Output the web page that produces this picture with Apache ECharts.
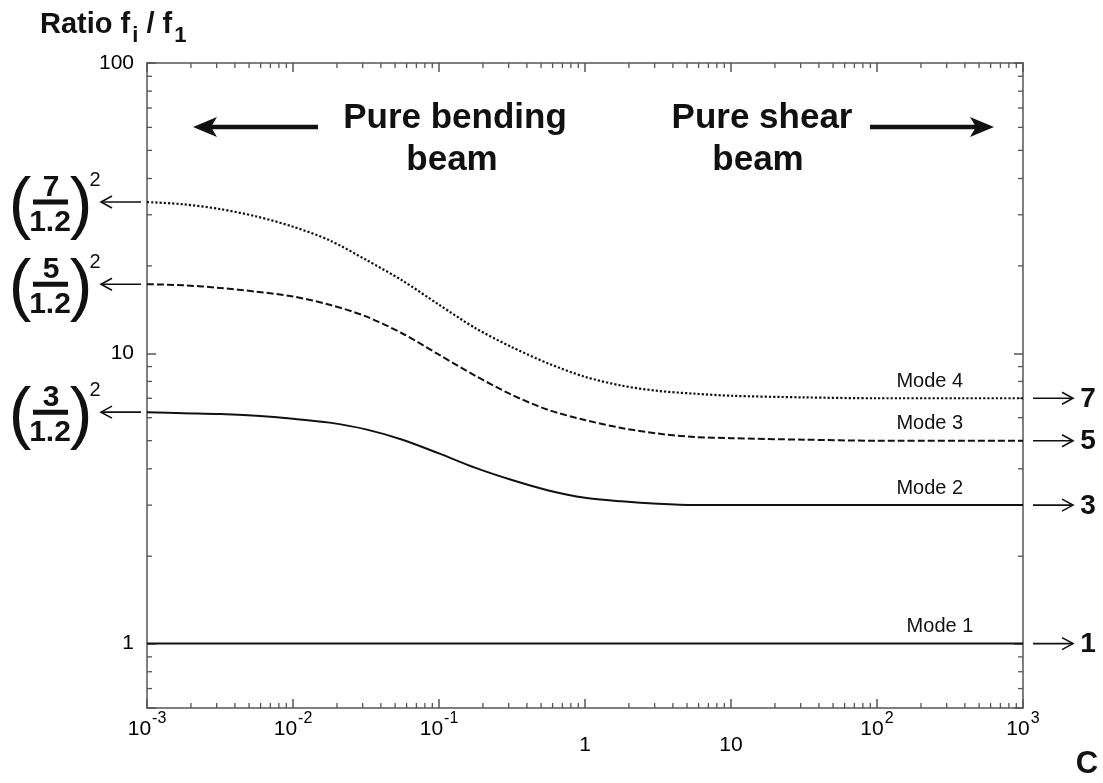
<!DOCTYPE html>
<html>
<head>
<meta charset="utf-8">
<script src="https://cdn.jsdelivr.net/npm/echarts@6/dist/echarts.min.js"></script>
<style>html,body{margin:0;padding:0;background:#fff;}#chart{width:1103px;height:783px;}</style>
</head>
<body>
<div id="chart"></div>
<script>
// ---- data ----
const cValues = [0.001, 0.00178, 0.00316, 0.00562, 0.01, 0.0178, 0.0316, 0.0562, 0.1, 0.178, 0.316, 0.562, 1, 1.78, 3.16, 5.62, 10, 31.6, 100, 1000];
const mode1 = [1, 1, 1, 1, 1, 1, 1, 1, 1, 1, 1, 1, 1, 1, 1, 1, 1, 1, 1, 1];
const mode2 = [6.27, 6.22, 6.18, 6.09, 5.95, 5.77, 5.47, 5.04, 4.52, 4.03, 3.66, 3.37, 3.18, 3.09, 3.03, 3.00, 3.0, 3.0, 3.0, 3.0];
const mode3 = [17.3, 17.15, 16.8, 16.3, 15.7, 14.7, 13.4, 11.7, 9.89, 8.36, 7.19, 6.38, 5.89, 5.53, 5.29, 5.15, 5.10, 5.04, 5.0, 5.0];
const mode4 = [33.2, 32.6, 31.4, 29.6, 27.3, 24.5, 21.0, 17.8, 14.7, 12.2, 10.5, 9.22, 8.30, 7.74, 7.42, 7.26, 7.14, 7.05, 7.0, 7.0];
const modeNames = ['Mode 1', 'Mode 2', 'Mode 3', 'Mode 4'];
const shearLimits = ['1', '3', '5', '7'];
const bendingNumerators = ['3', '5', '7'];
const bendingDenominator = '1.2';
const yTickLabels = ['1', '10', '100'];
const xDecades = [0.001, 0.01, 0.1, 1, 10, 100];
const yDecades = [0.1, 1, 10];
const minorMult = [2, 3, 4, 5, 6, 7, 8, 9];
const xMin = 0.001, xMax = 1000, yMin = 0.6, yMax = 100;

const FONT = '"Liberation Sans", Arial, sans-serif';
const INK = '#111';
const AXIS = '#555';

const xMinor = [];
xDecades.forEach(d => minorMult.forEach(m => xMinor.push([+(d * m).toPrecision(3), 1])));
const yMinor = [];
yDecades.forEach(d => minorMult.forEach(m => { const v = +(d * m).toPrecision(3); if (v > yMin && v < yMax) yMinor.push([1, v]); }));

const pairs = arr => cValues.map((c, i) => [c, arr[i]]);

const chart = echarts.init(document.getElementById('chart'), null, {renderer: 'canvas'});

function xLabel(v) {
  const e = Math.round(Math.log10(v));
  if (e === 0) return '{low|1}';
  if (e === 1) return '{low|10}';
  return '{b|10}{s|' + e + '}';
}

const axisCommon = {
  axisLine: {show: true, lineStyle: {color: AXIS, width: 1.5}},
  axisTick: {show: true, inside: true, length: 9, lineStyle: {color: AXIS, width: 1.5}},
  splitLine: {show: false},
  minorTick: {show: false},
  minorSplitLine: {show: false}
};

function minorTickSeries(isX) {
  return {
    type: 'custom',
    silent: true,
    xAxisIndex: 0, yAxisIndex: 0,
    clip: false,
    data: isX ? xMinor : yMinor,
    renderItem: function (params, api) {
      const cs = params.coordSys;
      const len = 5;
      if (isX) {
        const x = api.coord([api.value(0), 1])[0];
        const b = cs.y + cs.height, t = cs.y;
        return {type: 'group', children: [
          {type: 'line', shape: {x1: x, y1: b, x2: x, y2: b - len}, style: {stroke: AXIS, lineWidth: 1.3}},
          {type: 'line', shape: {x1: x, y1: t, x2: x, y2: t + len}, style: {stroke: AXIS, lineWidth: 1.3}}
        ]};
      } else {
        const y = api.coord([1, api.value(1)])[1];
        const l = cs.x, r = cs.x + cs.width;
        return {type: 'group', children: [
          {type: 'line', shape: {x1: l, y1: y, x2: l + len, y2: y}, style: {stroke: AXIS, lineWidth: 1.3}},
          {type: 'line', shape: {x1: r, y1: y, x2: r - len, y2: y}, style: {stroke: AXIS, lineWidth: 1.3}}
        ]};
      }
    }
  };
}

function lineSeries(name, arr, type, width) {
  return {
    name: name, type: 'line', data: pairs(arr),
    showSymbol: false, symbol: 'none',
    smooth: 0.3,
    lineStyle: {color: INK, width: width || 2, type: type},
    silent: true, z: 3
  };
}

const option = {
  animation: false,
  backgroundColor: '#fff',
  textStyle: {fontFamily: FONT},
  grid: {left: 147, right: 80, top: 63, bottom: 75},
  xAxis: [
    Object.assign({}, axisCommon, {
      type: 'log', logBase: 10, min: xMin, max: xMax, position: 'bottom',
      axisLabel: {
        show: true, margin: 6, color: '#000', fontFamily: FONT,
        showMinLabel: true, showMaxLabel: true,
        formatter: xLabel,
        rich: {
          b: {fontSize: 21, lineHeight: 20, padding: [10, 0, 0, 0], color: '#000', fontFamily: FONT},
          s: {fontSize: 16, lineHeight: 20, padding: [0, 0, 10, 1], color: '#000', fontFamily: FONT},
          low: {fontSize: 21, lineHeight: 20, padding: [42, 0, 0, 0], color: '#000', fontFamily: FONT}
        }
      }
    }),
    Object.assign({}, axisCommon, {
      type: 'log', logBase: 10, min: xMin, max: xMax, position: 'top',
      axisLabel: {show: false}
    })
  ],
  yAxis: [
    Object.assign({}, axisCommon, {
      type: 'log', logBase: 10, min: yMin, max: yMax, position: 'left',
      axisLabel: {
        show: true, margin: 13, fontSize: 21, color: '#000', fontFamily: FONT,
        formatter: function (v) {
          const e = Math.log10(v);
          if (Math.abs(e - Math.round(e)) > 1e-6) return '';
          const idx = Math.round(e);
          return yTickLabels[idx] !== undefined ? yTickLabels[idx] : '';
        }
      }
    }),
    Object.assign({}, axisCommon, {
      type: 'log', logBase: 10, min: yMin, max: yMax, position: 'right',
      axisLabel: {show: false}
    })
  ],
  series: [
    minorTickSeries(true),
    minorTickSeries(false),
    lineSeries(modeNames[0], mode1, 'solid'),
    lineSeries(modeNames[1], mode2, 'solid'),
    lineSeries(modeNames[2], mode3, [7, 3]),
    lineSeries(modeNames[3], mode4, [2.2, 2], 2.2)
  ]
};
chart.setOption(option);

// ---- annotations positioned through the chart's own scales ----
const toPx = (x, y) => chart.convertToPixel({xAxisIndex: 0, yAxisIndex: 0}, [x, y]);
const gLeft = toPx(xMin, 1)[0];
const gRight = toPx(xMax, 1)[0];

function txt(x, y, text, font, align, extra) {
  return Object.assign({
    type: 'text', x: x, y: y, silent: true,
    style: {text: text, font: font, fill: INK, align: align || 'center', textAlign: align || 'center',
            verticalAlign: 'middle', textVerticalAlign: 'middle'}
  }, extra || {});
}

const graphics = [];

// title  (rich tokens: centre = lineTop + L/2 + (padTop - padBottom)/2)
graphics.push({
  type: 'text', x: 40, y: 10, silent: true,
  style: {
    text: '{a|Ratio f}{sub|i}{a| / f}{sub|1}',
    fill: INK, align: 'left', textAlign: 'left', verticalAlign: 'top', textVerticalAlign: 'top',
    rich: {
      a: {font: 'bold 29px ' + FONT, lineHeight: 30, fill: INK},
      sub: {font: 'bold 22px ' + FONT, lineHeight: 30, padding: [22, 0, 0, 2], fill: INK}
    }
  }
});

// axis name C
graphics.push(txt(1087, 764, 'C', 'bold 31px ' + FONT));

// Pure bending / pure shear texts
graphics.push(txt(455, 118, 'Pure bending', 'bold 35px ' + FONT));
graphics.push(txt(452, 160, 'beam', 'bold 35px ' + FONT));
graphics.push(txt(762, 118, 'Pure shear', 'bold 35px ' + FONT));
graphics.push(txt(758, 160, 'beam', 'bold 35px ' + FONT));

// big arrows
const arY = 127;
graphics.push({type: 'line', silent: true, shape: {x1: 318, y1: arY, x2: 208, y2: arY}, style: {stroke: INK, lineWidth: 4.5}});
graphics.push({type: 'polygon', silent: true, shape: {points: [[193, arY], [217, arY - 10], [211, arY], [217, arY + 10]]}, style: {fill: INK}});
graphics.push({type: 'line', silent: true, shape: {x1: 870, y1: arY, x2: 980, y2: arY}, style: {stroke: INK, lineWidth: 4.5}});
graphics.push({type: 'polygon', silent: true, shape: {points: [[994, arY], [970, arY - 10], [976, arY], [970, arY + 10]]}, style: {fill: INK}});

// mode labels
const plateau = [mode1, mode2, mode3, mode4].map(a => a[a.length - 1]);
const labelX = [270, 230, 230, 230];
modeNames.forEach((n, i) => {
  const p = toPx(labelX[i], plateau[i]);
  graphics.push(txt(p[0], p[1] - 17, n, '20px ' + FONT));
});

// right side limits with arrows
shearLimits.forEach((s, i) => {
  const y = toPx(xMax, plateau[i])[1];
  const x1 = gRight + 10, x2 = gRight + 50;
  graphics.push({type: 'line', silent: true, shape: {x1: x1, y1: y, x2: x2, y2: y}, style: {stroke: INK, lineWidth: 1.6}});
  graphics.push({type: 'polyline', silent: true, shape: {points: [[x2 - 11, y - 6], [x2, y], [x2 - 11, y + 6]]}, style: {stroke: INK, lineWidth: 1.6, fill: null}});
  graphics.push(txt(gRight + 65, y + 1, s, 'bold 28px ' + FONT));
});

// left side bending limits (n/1.2)^2 with arrows
const startVals = [mode2[0], mode3[0], mode4[0]];
bendingNumerators.forEach((n, i) => {
  const y = toPx(xMin, startVals[i])[1];
  const x1 = gLeft - 6, x2 = gLeft - 46;
  graphics.push({type: 'line', silent: true, shape: {x1: x1, y1: y, x2: x2, y2: y}, style: {stroke: INK, lineWidth: 1.6}});
  graphics.push({type: 'polyline', silent: true, shape: {points: [[x2 + 11, y - 6], [x2, y], [x2 + 11, y + 6]]}, style: {stroke: INK, lineWidth: 1.6, fill: null}});
  graphics.push(txt(20, y + 5, '(', '68px ' + FONT));
  graphics.push(txt(81, y + 5, ')', '68px ' + FONT));
  graphics.push(txt(51, y - 14, n, 'bold 30px ' + FONT));
  graphics.push({type: 'rect', silent: true, shape: {x: 33, y: y - 2.5, width: 35, height: 5}, style: {fill: INK}});
  graphics.push(txt(50, y + 21, bendingDenominator, 'bold 30px ' + FONT));
  graphics.push(txt(95, y - 22, '2', '20px ' + FONT));
});

chart.setOption({graphic: {elements: graphics}});
</script>
</body>
</html>
